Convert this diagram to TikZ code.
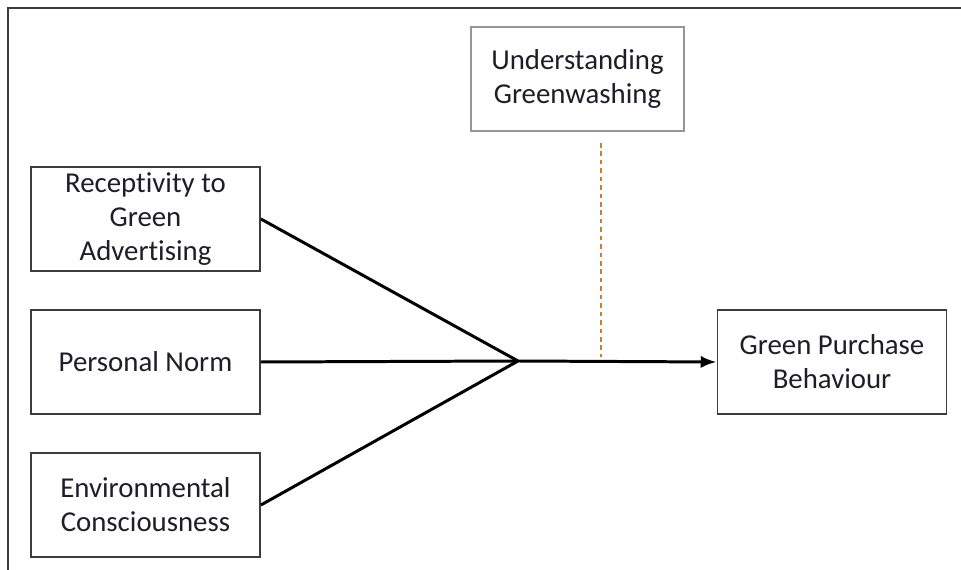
\documentclass[tikz,border=0pt]{standalone}
\usepackage{fontspec}
\setmainfont{Carlito}[Ligatures=NoCommon]
\usetikzlibrary{arrows.meta, positioning}
\definecolor{frameGray}{RGB}{60,60,60}
\definecolor{lightGray}{RGB}{150,150,150}
\definecolor{modOrange}{RGB}{200,128,56}
\definecolor{textDark}{RGB}{30,30,40}

\begin{document}
\begin{tikzpicture}[
    x=0.02cm, y=-0.02cm,
    factor node/.style={rectangle, draw=frameGray, line width=1.1pt, fill=white, inner sep=0pt,
        minimum width=4.58cm, minimum height=2.08cm, align=center, text=textDark,
        font=\fontsize{16.4}{19.4}\selectfont},
    moderator node/.style={factor node, draw=lightGray, minimum width=4.26cm},
    path line/.style={line width=1.7pt, black},
    mod line/.style={line width=1.6pt, modOrange, dash pattern=on 2.6pt off 2.2pt}
]
    \useasboundingbox (0,0) rectangle (961,570);

    % --- outer frame ---
    \draw[frameGray, line width=1.2pt] (961,8) -- (8,8) -- (8,570);

    % --- predictors ---
    \node[factor node] (Receptivity) at (145.5,219) {Receptivity to\\Green\\Advertising};
    \node[factor node] (Norm) at (145.5,362) {Personal Norm};
    \node[factor node] (Consciousness) at (145.5,505) {Environmental\\Consciousness};

    % --- outcome and moderator ---
    \node[factor node] (Purchase) at (832,362) {Green Purchase\\Behaviour};
    \node[moderator node] (Greenwashing) at (577.5,79) {Understanding\\Greenwashing};

    \coordinate (Join) at (518,361);
    \coordinate (ModTop) at (601,143);
    \coordinate (ModEnd) at (601,357);

    \draw[path line] (Receptivity.east) -- (Join);
    \draw[path line] (Norm.east) -- (Join);
    \draw[path line] (Consciousness.east) -- (Join);
    \draw[path line, -{Latex[length=9pt, width=7pt]}] (Join) -- (Purchase.west);

    \draw[mod line] (ModTop) -- (ModEnd);
\end{tikzpicture}
\end{document}
